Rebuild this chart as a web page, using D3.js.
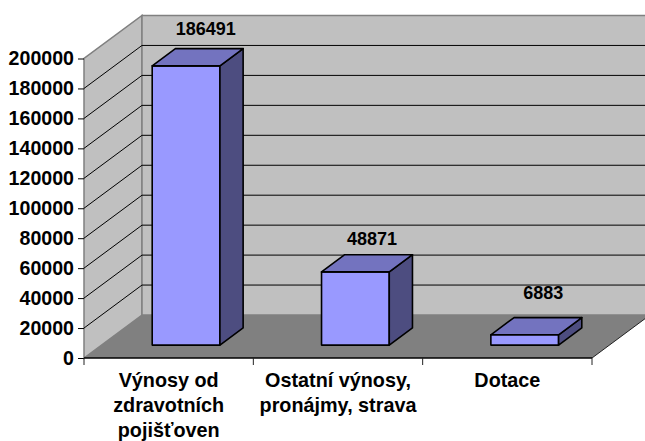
<!DOCTYPE html>
<html><head><meta charset="utf-8">
<style>html,body{margin:0;padding:0;background:#fff}svg{display:block}text{font-family:"Liberation Sans",Arial,sans-serif;font-weight:bold;fill:#000}</style>
<script src="https://cdnjs.cloudflare.com/ajax/libs/d3/7.8.5/d3.min.js"></script>
</head><body><svg id="c" width="645" height="441"></svg>
<script>
const categories = ["Výnosy od zdravotních pojišťoven", "Ostatní výnosy, pronájmy, strava", "Dotace"];
const categoryLines = [["Výnosy od","zdravotních","pojišťoven"],["Ostatní výnosy,","pronájmy, strava"],["Dotace"]];
const values = [186491, 48871, 6883];
const tickValues = [0,20000,40000,60000,80000,100000,120000,140000,160000,180000,200000];

const svg = d3.select("#c");
const X0=84, X1=592, Y0=358, Y1=58.5, DX=58, DY=-43;
const x = d3.scaleBand().domain(categories).range([X0,X1]);
const y = d3.scaleLinear().domain([0,200000]).range([Y0,Y1]);
// project (plot x, plot y, depth fraction) onto the page
const P = (px,py,d)=>[px+DX*d, py+DY*d];
const poly = pts => "M"+pts.map(p=>p.join(",")).join("L")+"Z";
const line = (a,b,stroke,w)=>svg.append("line").attr("x1",a[0]).attr("y1",a[1]).attr("x2",b[0]).attr("y2",b[1]).attr("stroke",stroke).attr("stroke-width",w);

// walls and floor
const WALL="#c0c0c0", EDGE="#808080";
svg.append("path").attr("d",poly([P(X0,Y0,0),P(X0,Y1,0),P(X0,Y1,1),P(X0,Y0,1)])).attr("fill",WALL).attr("stroke",EDGE).attr("stroke-width",1.5);
svg.append("path").attr("d",poly([P(X0,Y0,1),P(X0,Y1,1),P(X1,Y1,1),P(X1,Y0,1)])).attr("fill",WALL).attr("stroke",EDGE).attr("stroke-width",1.5);
svg.append("path").attr("d",poly([P(X0,Y0,0),P(X1,Y0,0),P(X1,Y0,1),P(X0,Y0,1)])).attr("fill",EDGE);

// gridlines on side and back walls
tickValues.slice(1,-1).forEach(t=>{
  line(P(X0,y(t),0),P(X0,y(t),1),"#000",1);
  line(P(X0,y(t),1),P(X1,y(t),1),"#000",1);
});
// floor front and right edge
line(P(X0,Y0,0),P(X1,Y0,0),"#000",1.5);
line(P(X1,Y0,0),P(X1,Y0,1),"#222",1);

// bars
const BAR_FRAC=0.4, Z0=0.3, Z1=0.7;
categories.forEach((c,i)=>{
  const band=x.bandwidth(), w=band*BAR_FRAC, l=x(c)+(band-w)/2, r=l+w;
  const top=y(values[i]);
  const g=svg.append("g").attr("stroke","#000").attr("stroke-width",1.6).attr("stroke-linejoin","round");
  g.append("path").attr("d",poly([P(l,Y0,Z0),P(r,Y0,Z0),P(r,top,Z0),P(l,top,Z0)])).attr("fill","#9999ff");
  g.append("path").attr("d",poly([P(r,Y0,Z0),P(r,Y0,Z1),P(r,top,Z1),P(r,top,Z0)])).attr("fill","#4d4d80");
  g.append("path").attr("d",poly([P(l,top,Z0),P(r,top,Z0),P(r,top,Z1),P(l,top,Z1)])).attr("fill","#7373bf");
});

// value labels
const labelLift=[44,40,49], labelShift=[37,34,36];
categories.forEach((c,i)=>{
  svg.append("text").attr("x",x(c)+x.bandwidth()/2+labelShift[i]).attr("y",y(values[i])-labelLift[i])
    .attr("text-anchor","middle").attr("font-size",18).text(values[i]);
});

// axes
const yAxis=d3.axisLeft(y).tickValues(tickValues).tickSize(6).tickPadding(4).tickFormat(d3.format("d"));
const ya=svg.append("g").attr("transform",`translate(${X0},0)`).call(yAxis);
ya.select(".domain").remove();
ya.selectAll("line").attr("stroke","#000").attr("stroke-width",1);
ya.selectAll("text").attr("font-size",19.6).attr("font-family","Liberation Sans").attr("font-weight","bold").attr("fill","#000");

const xTicks=d3.range(categories.length+1).map(i=>X0+i*x.bandwidth());
xTicks.forEach(t=>line([t,Y0],[t,Y0+7],"#222",1));
categories.forEach((c,i)=>{
  const t=svg.append("text").attr("text-anchor","middle").attr("font-size",19.8);
  categoryLines[i].forEach((s,j)=>t.append("tspan").attr("x",x(c)+x.bandwidth()/2).attr("y",386.5+j*25).text(s));
});
</script></body></html>
